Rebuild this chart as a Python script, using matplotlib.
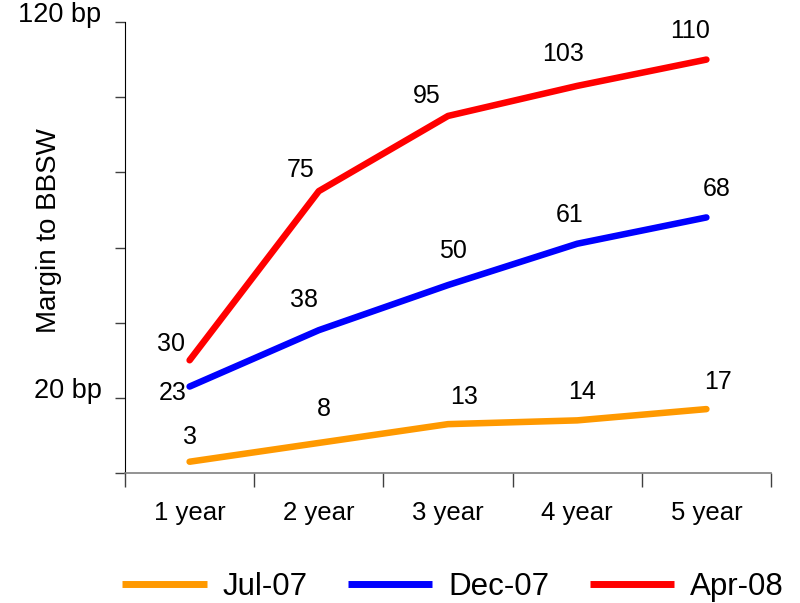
import matplotlib
matplotlib.use("Agg")
import matplotlib.pyplot as plt

plt.rcParams['font.family'] = ['Liberation Sans', 'DejaVu Sans']

categories = ["1 year", "2 year", "3 year", "4 year", "5 year"]
series_names = ["Jul-07", "Dec-07", "Apr-08"]
jul07 = [3, 8, 13, 14, 17]
dec07 = [23, 38, 50, 61, 68]
apr08 = [30, 75, 95, 103, 110]
colors = ["#FF9900", "#0000FF", "#FF0000"]

y_ticks = [0, 20, 40, 60, 80, 100, 120]
y_tick_labels = ["", "20 bp", "", "", "", "", "120 bp"]

# value-label offsets (pixels) for each series
label_offsets = [
    [(0, 25), (5, 34), (16, 27), (5, 28), (12, 27)],
    [(-17, -6), (-15, 30), (5, 34), (-8, 29), (10, 28)],
    [(-19, 16), (-18, 21), (-21, 20), (-14, 32), (-16, 29)],
]

fig = plt.figure(figsize=(8.0, 6.03), dpi=100)
ax = fig.add_axes([0.15625, 0.2156, 0.8075, 0.7479])

x = list(range(len(categories)))
for name, vals, col, offs in zip(series_names, [jul07, dec07, apr08], colors, label_offsets):
    ax.plot(x, vals, color=col, lw=4.7, solid_capstyle="round",
            solid_joinstyle="round", label=name)
    for xi, v, (dx, dy) in zip(x, vals, offs):
        ax.annotate(str(v), (xi, v), xytext=(dx, dy), textcoords="offset pixels",
                    ha="center", va="center", fontsize=18, color="black")

ax.set_xlim(-0.5, len(categories) - 0.5)
ax.set_ylim(0, 120)

# category ticks sit between categories; labels centred on each category
ax.set_xticks([i - 0.5 for i in range(len(categories) + 1)])
ax.set_xticklabels([])
ax.set_xticks(x, minor=True)
ax.set_xticklabels(categories, minor=True, fontsize=18.5)
ax.tick_params(axis="x", which="minor", length=0, pad=20)
ax.tick_params(axis="x", which="major", length=10, width=1, color="#404040", direction="out")

ax.set_yticks(y_ticks)
ax.set_yticklabels(y_tick_labels, fontsize=19.5)
for t in ax.get_yticklabels():
    t.set_verticalalignment("baseline")
ax.tick_params(axis="y", length=7, width=1, color="#404040", direction="out", pad=10)

ax.spines["top"].set_visible(False)
ax.spines["right"].set_visible(False)
ax.spines["left"].set_color("black")
ax.spines["bottom"].set_color("#808080")
ax.spines["bottom"].set_linewidth(1.2)

ax.set_ylabel("Margin to BBSW", fontsize=20)
ax.yaxis.set_label_coords(-0.097, 0.537)

leg = fig.legend(loc="center", bbox_to_anchor=(0.566, 0.027), ncol=3, frameon=False,
                 fontsize=22.5, handlelength=2.7, handletextpad=0.5, columnspacing=1.3,
                 borderpad=0)
for h in leg.get_lines():
    h.set_solid_capstyle("butt")
    h.set_linewidth(5)

fig.savefig("out.png", dpi=100)
